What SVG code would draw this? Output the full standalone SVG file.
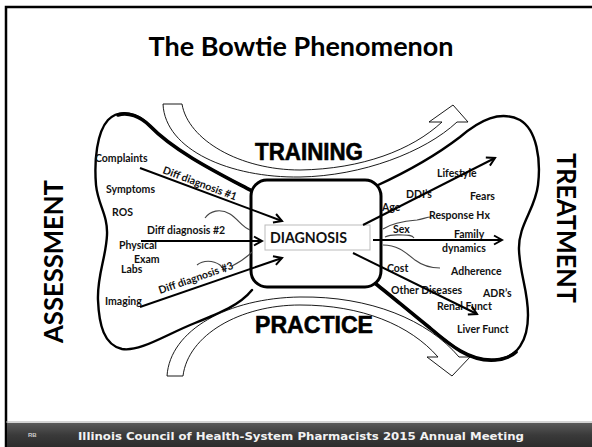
<svg xmlns="http://www.w3.org/2000/svg" width="592" height="447" viewBox="0 0 592 447">
<defs>
<style>
.lbl{font-family:Lato,"Open Sans","Liberation Sans",sans-serif;font-weight:700;font-size:10.5px;fill:#111}
.big{font-family:"Liberation Sans",Arial,sans-serif;font-weight:700;font-size:24px;fill:#000;stroke:#000;stroke-width:0.6}
.side{font-family:Lato,"Open Sans","Liberation Sans",sans-serif;font-weight:700;font-size:27px;fill:#000}
.outline{fill:none;stroke:#000;stroke-width:2.4;stroke-linejoin:round;stroke-linecap:round}
.thick{fill:none;stroke:#000;stroke-width:3.6;stroke-linecap:round}
.squig{fill:none;stroke:#444;stroke-width:1.1}
.arr{fill:none;stroke:#000;stroke-width:2;marker-end:url(#ah)}
.hollow{fill:#fff;stroke:#000;stroke-width:0.9;stroke-linejoin:miter}
</style>
<marker id="ah" markerUnits="userSpaceOnUse" markerWidth="12" markerHeight="12" viewBox="0 0 12 12" refX="10" refY="6" orient="auto">
<path d="M2,1.5 L10,6 L2,10.5" fill="none" stroke="#000" stroke-width="2"/>
</marker>
<linearGradient id="foot" x1="0" y1="0" x2="0" y2="1">
<stop offset="0" stop-color="#5a5a5a"/>
<stop offset="0.5" stop-color="#3a3a3a"/>
<stop offset="1" stop-color="#2c2c2c"/>
</linearGradient>
</defs>
<rect x="0" y="0" width="592" height="447" fill="#fff"/>
<!-- frame -->
<path d="M6,447 L6,7 L592,7" fill="none" stroke="#000" stroke-width="2.5"/>
<!-- footer -->
<g id="footer">
<line x1="6" y1="422" x2="592" y2="422" stroke="#aaa" stroke-width="1"/>
<rect x="7" y="423" width="585" height="24" fill="url(#foot)"/>
<text x="28" y="437" font-family="Liberation Sans,sans-serif" font-size="6" font-weight="700" fill="#ccc">RB</text>
<text x="78" y="440" font-family="DejaVu Sans,sans-serif" font-weight="700" font-size="10.3" fill="#f2f2f2" textLength="446" lengthAdjust="spacingAndGlyphs">Illinois Council of Health-System Pharmacists 2015 Annual Meeting</text>
</g>
<!-- title -->
<g id="title">
<text x="301" y="56" text-anchor="middle" font-family="Lato,'Open Sans',sans-serif" font-weight="700" font-size="27" fill="#000" textLength="305" lengthAdjust="spacingAndGlyphs">The Bowtie Phenomenon</text>
</g>
<!-- bowtie outline -->
<g id="bowtie">
<path class="outline" d="M252,191 C220,174 175,152 150,126 C138,113 120,108 108,120 C97,132 94,160 96,185 C98,205 108,215 107,235 C106,258 97,275 98,300 C99,325 104,345 122,349 C140,352 165,335 195,323 C220,313 240,305 252,290"/>
<path class="thick" d="M252,191 C220,174 175,152 150,126 C140,116 128,112 118,115"/>
<path class="outline" d="M376,186 C400,175 430,160 460,137 C480,120 500,110 520,120 C537,130 541,160 538,185 C535,210 518,225 519,250 C520,275 528,290 528,315 C528,340 518,358 495,360 C470,362 450,345 430,328 C410,312 390,295 376,284"/>
<path class="thick" d="M376,284 C390,295 410,312 430,328 C450,345 470,362 495,360 C505,359 512,356 516,352"/>
</g>
<!-- curved arrows -->
<g id="training-arrow">
<path class="hollow" d="M163,104 C165,150 230,178 300,177 C362,176 425,152 457,122 L468,122 L453,105 L429,122 L442,122 C412,150 362,169 300,170 C240,170 188,140 182,104 Z"/>
</g>
<g id="practice-arrow">
<path class="hollow" d="M167,376 C170,330 228,298 300,297 C370,296 428,320 459,357 L470,357 L452,376 L427,357 L438,357 C410,325 362,305 300,305 C240,305 188,335 183,376 Z"/>
</g>
<!-- central box -->
<g id="center-box">
<rect x="251" y="180" width="130" height="107" rx="16" ry="16" fill="#fff" stroke="#000" stroke-width="3"/>
</g>
<!-- squiggles -->
<g id="squiggles">
<path class="squig" d="M205,218 C210,211 220,208 230,214 C238,219 242,227 250,230"/>
<path class="squig" d="M197,265 C203,260 213,260 220,265 C223,268 225,271 226,272"/>
<path class="squig" d="M232,266 C240,262 246,258 252,252"/>
<path class="squig" d="M383,229 C392,223 405,221 417,220 C423,219 427,217 431,217"/>
<path class="squig" d="M383,245 C397,245 405,252 415,260 C423,266 430,268 440,268"/>
<path class="squig" d="M385,237 C391,234 397,235 403,235 C408,235 412,235 414,238"/>
</g>
<!-- big labels -->
<g id="training"><text class="big" x="255" y="160" textLength="108" lengthAdjust="spacingAndGlyphs">TRAINING</text></g>
<g id="practice"><text class="big" x="255" y="333" textLength="118" lengthAdjust="spacingAndGlyphs">PRACTICE</text></g>
<g id="assessment"><text class="side" transform="translate(63,343) rotate(-90)" textLength="163" lengthAdjust="spacingAndGlyphs">ASSESSMENT</text></g>
<g id="treatment"><text class="side" transform="translate(557,153) rotate(90)" textLength="150" lengthAdjust="spacingAndGlyphs">TREATMENT</text></g>
<!-- diagnosis -->
<g id="diagnosis">
<rect x="265" y="225" width="105" height="25" fill="#fff" stroke="#bbb" stroke-width="1"/>
<text x="270" y="243" font-family="Lato,'Open Sans',sans-serif" font-weight="700" font-size="14.5" fill="#111" textLength="77" lengthAdjust="spacingAndGlyphs">DIAGNOSIS</text>
</g>
<!-- assessment labels -->
<g id="left-labels">
<text class="lbl" x="95" y="162">Complaints</text>
<text class="lbl" x="106" y="193">Symptoms</text>
<text class="lbl" x="112" y="216">ROS</text>
<text class="lbl" x="147" y="234">Diff diagnosis #2</text>
<text class="lbl" x="119" y="249">Physical</text>
<text class="lbl" x="134" y="263">Exam</text>
<text class="lbl" x="121" y="273">Labs</text>
<text class="lbl" x="105" y="305">Imaging</text>
<text class="lbl" transform="translate(162,173) rotate(20.5)">Diff diagnosis #1</text>
<text class="lbl" transform="translate(160,294) rotate(-19)">Diff diagnosis #3</text>
</g>
<!-- treatment labels -->
<g id="right-labels">
<text class="lbl" x="437" y="177">Lifestyle</text>
<text class="lbl" x="406" y="198">DDI’s</text>
<text class="lbl" x="470" y="200">Fears</text>
<text class="lbl" x="382" y="211">Age</text>
<text class="lbl" x="429" y="219">Response Hx</text>
<text class="lbl" x="393" y="233">Sex</text>
<text class="lbl" x="454" y="238">Family</text>
<text class="lbl" x="442" y="252">dynamics</text>
<text class="lbl" x="387" y="272">Cost</text>
<text class="lbl" x="451" y="275">Adherence</text>
<text class="lbl" x="391" y="294">Other Diseases</text>
<text class="lbl" x="483" y="297">ADR’s</text>
<text class="lbl" x="437" y="310">Renal Funct</text>
<text class="lbl" x="457" y="333">Liver Funct</text>
</g>
<!-- connectors -->
<g id="connectors">
<line class="arr" x1="140" y1="168" x2="282" y2="221"/>
<line class="arr" x1="141" y1="241" x2="262" y2="241"/>
<line class="arr" x1="140" y1="307" x2="282" y2="258"/>
<line class="arr" x1="363" y1="225" x2="495" y2="158"/>
<line class="arr" x1="373" y1="240" x2="502" y2="240"/>
<line class="arr" x1="353" y1="253" x2="477" y2="314"/>
</g>
</svg>
